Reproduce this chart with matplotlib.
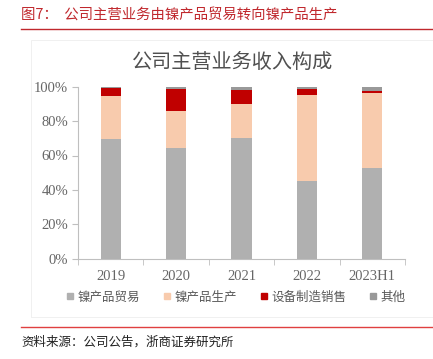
import numpy as np
import matplotlib
matplotlib.use("Agg")
import matplotlib.pyplot as plt
from matplotlib.patches import Rectangle
from matplotlib.lines import Line2D

plt.rcParams['font.family'] = ['Noto Sans CJK SC', 'DejaVu Sans']

# data (share of revenue, %)
categories = ["2019", "2020", "2021", "2022", "2023H1"]
trade = [69.4, 64.3, 70.2, 45.2, 52.5]        # 镍产品贸易
production = [25.4, 21.4, 19.9, 50.0, 43.8]   # 镍产品生产
equipment = [4.6, 13.1, 8.0, 3.4, 1.2]        # 设备制造销售
other = [0.6, 1.2, 1.9, 1.4, 2.5]             # 其他
series_names = ["镍产品贸易", "镍产品生产", "设备制造销售", "其他"]
colors = ["#B0B0B0", "#F8CBAD", "#C00000", "#999999"]
tick_pct = [0, 20, 40, 60, 80, 100]

fig = plt.figure(figsize=(4.33, 3.59), dpi=100)

# faint frame round the chart area
fig.patches.append(Rectangle((31 / 433, 1 - 317 / 359), 1.0, 277 / 359,
                             transform=fig.transFigure, fill=False,
                             edgecolor="#EEEEEE", linewidth=0.6))

ax = fig.add_axes([78 / 433, 1 - 258.7 / 359, 327 / 433, 172 / 359])

x = np.arange(len(categories))
bottom = np.zeros(len(categories))
for vals, c, name in zip([trade, production, equipment, other], colors, series_names):
    ax.bar(x, vals, width=0.31, bottom=bottom, color=c, label=name, linewidth=0)
    bottom += np.array(vals)

ax.set_xlim(-0.5, len(categories) - 0.5)
ax.set_ylim(0, 100)
ax.set_yticks(tick_pct)
ax.set_yticklabels([f"{t}%" for t in tick_pct])
ax.set_xticks(x)
ax.set_xticklabels(categories)
ax.set_xticks(np.arange(-0.5, len(categories)), minor=True)
ax.tick_params(axis="x", which="major", length=0, pad=8)
ax.tick_params(axis="x", which="minor", length=4, color="#BFBFBF", direction="out")
ax.tick_params(axis="y", length=4, color="#BFBFBF", direction="out", pad=3)
for lbl in ax.get_xticklabels() + ax.get_yticklabels():
    lbl.set_family(["Liberation Serif"])
    lbl.set_fontsize(10.5)
    lbl.set_color("#666666")

for side in ["top", "right"]:
    ax.spines[side].set_visible(False)
for side in ["left", "bottom"]:
    ax.spines[side].set_color("#BFBFBF")
    ax.spines[side].set_linewidth(0.8)

# chart title
fig.text(0.537, 1 - 62 / 359, "公司主营业务收入构成", ha="center", va="center",
         fontsize=14.5, color="#505050")

# legend
handles = [Line2D([], [], marker="s", linestyle="none", markersize=5,
                  markerfacecolor=c, markeredgecolor=c) for c in colors]
fig.legend(handles, series_names, loc="center", bbox_to_anchor=(0.545, 1 - 297 / 359),
           ncol=4, frameon=False, fontsize=9, handlelength=0.6, handletextpad=0.25,
           columnspacing=1.9, labelcolor="#595959")

# report header and footer
red = "#C0282D"
fig.text(21 / 433, 1 - 15 / 359, "图7：  公司主营业务由镍产品贸易转向镍产品生产",
         ha="left", va="center", fontsize=10.4, color=red)
fig.add_artist(Line2D([21 / 433, 1.0], [1 - 29.3 / 359] * 2, color=red, linewidth=1.0))
fig.add_artist(Line2D([21 / 433, 1.0], [1 - 327.3 / 359] * 2, color="#E04040", linewidth=1.0))
fig.text(21 / 433, 1 - 342 / 359, "资料来源：公司公告，浙商证券研究所",
         ha="left", va="center", fontsize=9, color="#202020")

fig.savefig("out.png", dpi=100)
